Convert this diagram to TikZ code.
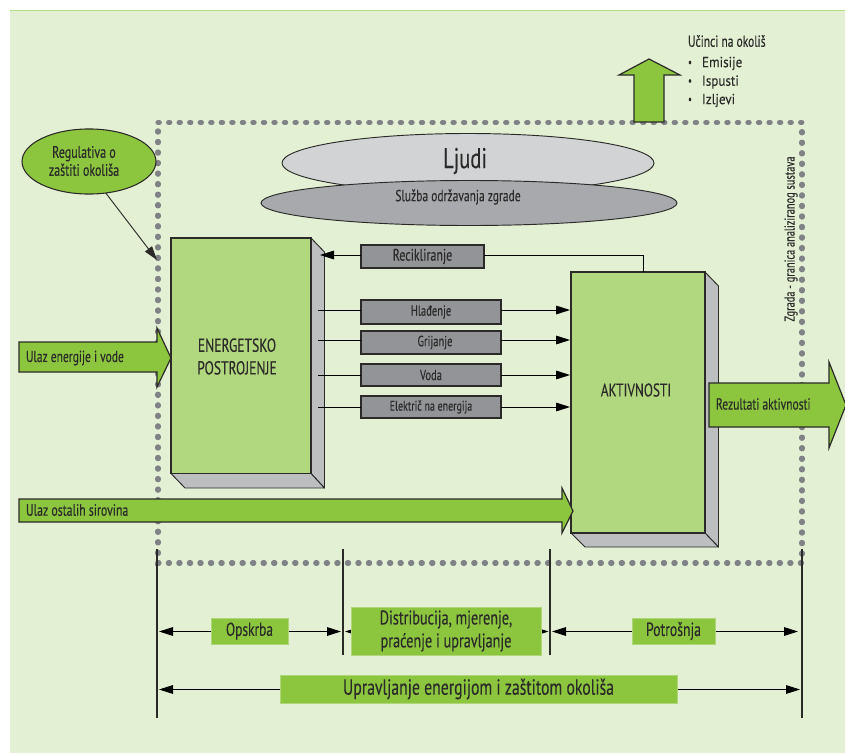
\documentclass[tikz,border=0pt]{standalone}
\usepackage{fontspec}
\setmainfont[FakeStretch=0.72,FakeBold=0.2]{PT Sans}
\newfontfamily\widefont[FakeStretch=0.9,FakeBold=0.15]{PT Sans}
\usetikzlibrary{arrows.meta,shapes.geometric}
\definecolor{pagebg}{HTML}{E4F0D4}
\definecolor{topline}{HTML}{B5DC86}
\definecolor{leaf}{HTML}{8CC63F}
\definecolor{paleleaf}{HTML}{B1D87E}
\definecolor{ink}{HTML}{2B2A29}
\definecolor{dots}{HTML}{808285}
\definecolor{lightg}{HTML}{D1D3D4}
\definecolor{midg}{HTML}{A7A9AC}
\definecolor{sideg}{HTML}{BCBEC0}
\definecolor{boxg}{HTML}{929497}
\newcommand{\pxnode}[7][]{% style, name, x1,y1,x2,y2, text
  \node[#1, minimum width={(#5-#3)*0.75pt}, minimum height={(#6-#4)*0.75pt}] (#2) at ({(#3+#5)/2},{(#4+#6)/2}) {#7};}
\tikzset{
  x=0.75pt, y=-0.75pt,
  every node/.style={inner sep=0pt, outer sep=0pt, text=ink},
  tip/.style={-{Triangle[length=10.5pt,width=6.5pt]}},
  twotip/.style={{Triangle[length=10.5pt,width=6.5pt]}-{Triangle[length=10.5pt,width=6.5pt]}},
  conn/.style={draw=black, line width=0.7pt},
  tick/.style={draw=ink, line width=0.8pt},
  frontbox/.style={draw=ink, fill=paleleaf, line width=0.9pt},
  sidebox/.style={draw=ink, fill=sideg, line width=0.7pt, line join=round},
  greybox/.style={draw=ink, fill=boxg, line width=1pt, font=\fontsize{11}{12}\selectfont},
  labelbox/.style={draw=leaf!70!white, fill=leaf, line width=0.5pt, align=center},
  bigarrow/.style={draw=ink, fill=leaf, line width=0.9pt, line join=miter},
  arrowtext/.style={anchor=west, font=\fontsize{12}{14}\selectfont},
  bullettext/.style={anchor=west, font=\widefont\fontsize{10.9}{12}\selectfont},
}
\begin{document}
\begin{tikzpicture}
\useasboundingbox (0,0) rectangle (845,753);
\fill[white] (0,0) rectangle (845,753);
\fill[pagebg] (10,10) rectangle (845,753);
\draw[topline, line width=0.8pt] (10,10.5) -- (845,10.5);

% system boundary
\draw[dots, line width=3.8pt, line cap=round, dash pattern=on 1pt off 6.9pt] (158,122.5) -- (802,122.5) -- (802,563) -- (158,563) -- cycle;

% up arrow and list
\draw[bigarrow] (634,122) -- (634,75) -- (619,75) -- (649,59) -- (680,75) -- (664,75) -- (664,122) -- cycle;
\node[anchor=west, font=\fontsize{12}{14}\selectfont] (effects) at (688,41) {Učinci na okoliš};
\node[font=\fontsize{9}{10}\selectfont] (b1) at (690,63.5) {•};
\node[font=\fontsize{9}{10}\selectfont] (b2) at (690,82) {•};
\node[font=\fontsize{9}{10}\selectfont] (b3) at (690,100.5) {•};
\node[bullettext] (t1) at (702,63.5) {Emisije};
\node[bullettext] (t2) at (702,82) {Ispusti};
\node[bullettext] (t3) at (702,100.5) {Izljevi};

% ellipses
\draw[draw=ink, fill=lightg, line width=0.7pt] (468,163) ellipse [x radius=186, y radius=29.5];
\node[font=\fontsize{21.5}{26}\selectfont] (ljudi) at (465,161) {Ljudi};
\draw[draw=ink, fill=midg, line width=0.7pt] (469,203) ellipse [x radius=208, y radius=22.5];
\node[font=\fontsize{12}{14}\selectfont] (sluzba) at (458,197) {Služba održavanja zgrade};
\node[draw=ink, fill=leaf, line width=0.8pt, minimum width=100.5pt, minimum height=48.8pt, shape=ellipse] (reg) at (89,161.5) {};
\node[align=center, font=\fontsize{12.5}{13.5}\selectfont] (regtext) at (84,161) {Regulativa o\\zaštiti okoliša};

% boundary label
\node[rotate=90, font=\fontsize{10.8}{13}\selectfont] (granica) at (791,239) {Zgrada - granica analiziranog sustava};

% energy plant box
\draw[sidebox] (311,238) -- (324.5,252) -- (324.5,488) -- (311,473.5) -- cycle;
\draw[sidebox] (171,473.5) -- (311,473.5) -- (324.5,488) -- (185,488) -- cycle;
\pxnode[frontbox]{plant}{171}{238}{311}{473.5}{}
\node[align=center, font=\fontsize{14.1}{17}\selectfont] (planttext) at (237,356.5) {ENERGETSKO\\POSTROJENJE};

% activities box
\draw[sidebox] (705,272) -- (718.5,286) -- (718.5,547) -- (705,533) -- cycle;
\draw[sidebox] (571,533) -- (705,533) -- (718.5,547) -- (585,547) -- cycle;
\pxnode[frontbox]{act}{571}{272}{705}{533}{}
\node[font=\fontsize{13.8}{17}\selectfont] (acttext) at (636,390) {AKTIVNOSTI};

% grey boxes
\pxnode[greybox, font=\fontsize{12.5}{14}\selectfont]{rec}{361}{245}{484}{268}{Recikliranje}
\pxnode[greybox]{hl}{361}{300}{501}{324}{Hlađenje}
\pxnode[greybox]{gr}{361}{331}{501}{354}{\hspace{6pt}Grijanje}
\pxnode[greybox]{vo}{361}{364}{501}{386}{Voda\hspace{6pt}}
\pxnode[greybox, font=\fontsize{10.4}{12}\selectfont]{el}{361}{396}{501}{418}{Električ na energija}

\coordinate (recin) at (320,255);
\coordinate (recup) at (643,272);
\coordinate (hlS) at (318,310);
\coordinate (grS) at (318,340);
\coordinate (voS) at (318,375);
\coordinate (elS) at (318,407);
\coordinate (hlE) at (570,310);
\coordinate (grE) at (570,340);
\coordinate (voE) at (570,375);
\coordinate (elE) at (570,407);
\draw[conn, tip] (rec.west |- recin) -- (recin);
\draw[conn] (rec.east |- recin) -- (recup |- recin) -- (recup);
\foreach \n/\s/\e in {hl/hlS/hlE, gr/grS/grE, vo/voS/voE, el/elS/elE}{
  \draw[conn] (\s) -- (\n.west |- \s);
  \draw[conn, tip] (\n.east |- \s) -- (\e);
}

% regulation arrow
\coordinate (regtip) at (157,260);
\draw[conn, tip, draw=ink] (reg.-62) -- (regtip);

% big arrows
\draw[bigarrow] (19,342) -- (157,342) -- (157,328) -- (171,358) -- (157,387) -- (157,372) -- (19,372) -- cycle;
\node[arrowtext] (ulaz1) at (26,358) {Ulaz energije i vode};
\draw[bigarrow] (19,499) -- (562,499) -- (562,488) -- (573,511) -- (562,533) -- (562,522) -- (19,522) -- cycle;
\node[arrowtext, font=\fontsize{12.3}{14}\selectfont] (ulaz2) at (26,510) {Ulaz ostalih sirovina};
\draw[bigarrow] (709,383) -- (829,383) -- (829,362) -- (846,405) -- (829,448) -- (829,427) -- (709,427) -- cycle;
\node[arrowtext] (rez) at (716,404) {Rezultati aktivnosti};

% bottom scale
\coordinate (a1) at (157,549); \coordinate (a2) at (157,718);
\coordinate (b1t) at (343,549); \coordinate (b2t) at (343,655);
\coordinate (c1) at (550,549); \coordinate (c2) at (550,655);
\coordinate (d1) at (802,549); \coordinate (d2) at (802,718);
\draw[tick] (a1) -- (a2);
\draw[tick] (b1t) -- (b2t);
\draw[tick] (c1) -- (c2);
\draw[tick] (d1) -- (d2);

\coordinate (o1) at (159,631.5); \coordinate (o2) at (341,631.5);
\coordinate (m1) at (345,631.5); \coordinate (m2) at (548.5,631.5);
\coordinate (p1) at (552,631.5); \coordinate (p2) at (798,631.5);
\coordinate (u1) at (159,689.5); \coordinate (u2) at (800,689.5);
\draw[conn, twotip] (o1) -- (o2);
\draw[conn, twotip] (m1) -- (m2);
\draw[conn, twotip] (p1) -- (p2);
\draw[conn, twotip] (u1) -- (u2);
\pxnode[labelbox, font=\fontsize{14}{16}\selectfont]{ops}{211}{618}{288}{644}{Opskrba}
\pxnode[labelbox, font=\fontsize{14.8}{17.2}\selectfont]{dis}{351}{607}{541}{655}{Distribucija, mjerenje,\\pra\'cenje i upravljanje}
\pxnode[labelbox, font=\fontsize{14.3}{16}\selectfont]{pot}{632}{618}{715}{644}{Potrošnja}
\pxnode[labelbox, font=\fontsize{16.4}{19}\selectfont]{upr}{280}{675}{677}{703}{Upravljanje energijom i zaštitom okoliša}
\end{tikzpicture}
\end{document}
